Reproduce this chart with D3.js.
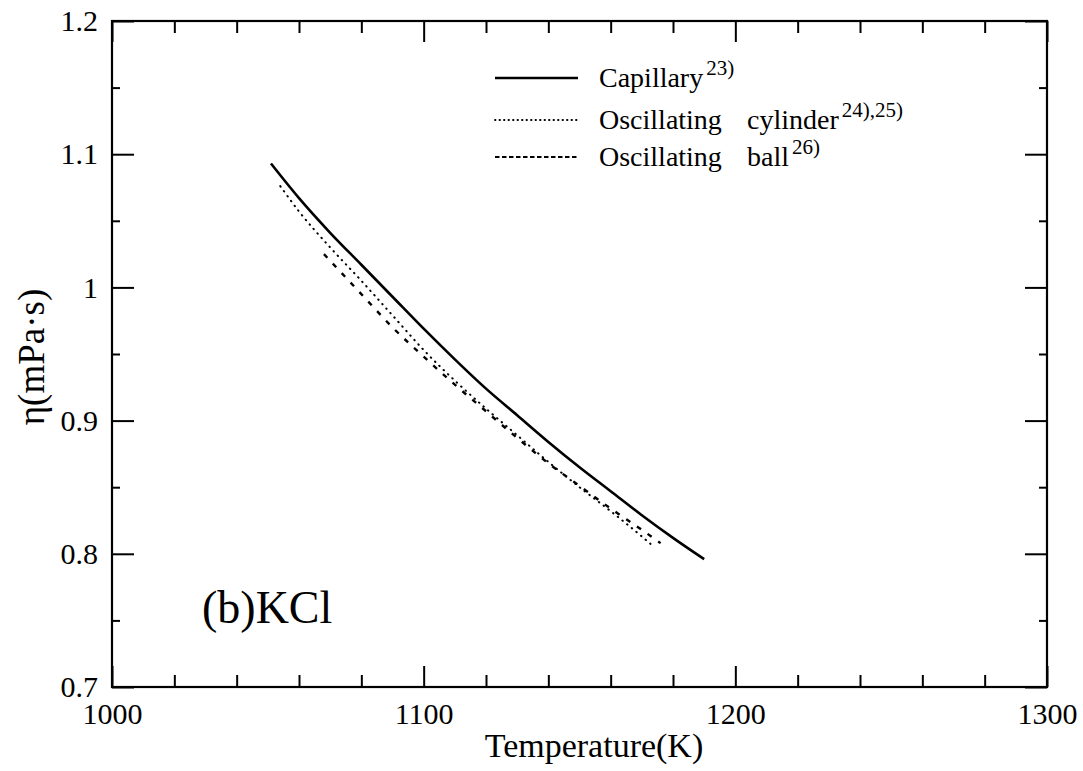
<!DOCTYPE html>
<html><head><meta charset="utf-8">
<script src="https://cdn.jsdelivr.net/npm/d3@7"></script>
<style>
body{margin:0;background:#fff}
text{font-family:"Liberation Serif","Times New Roman",Times,"DejaVu Serif",serif;fill:#000}
</style>
</head><body>
<svg id="c" width="1083" height="771"></svg>
<script>
// ---- data ----
const xMajorTicks = [1000, 1100, 1200, 1300];
const xTickLabels = ["1000", "1100", "1200", "1300"];
const xMinorTicks = [1020,1040,1060,1080,1120,1140,1160,1180,1220,1240,1260,1280];
const yMajorTicks = [0.7, 0.8, 0.9, 1.0, 1.1, 1.2];
const yTickLabels = ["0.7", "0.8", "0.9", "1", "1.1", "1.2"];
const yMinorTicks = [0.75, 0.85, 0.95, 1.05, 1.15];

const capillaryT   = [1051, 1060, 1070, 1080, 1090, 1100, 1110, 1120, 1130, 1140, 1150, 1160, 1170, 1180, 1190];
const capillaryEta = [1.093, 1.067, 1.041, 1.017, 0.993, 0.969, 0.946, 0.924, 0.904, 0.884, 0.865, 0.847, 0.829, 0.812, 0.796];

const cylinderT   = [1054, 1060, 1070, 1080, 1090, 1100, 1110, 1120, 1130, 1140, 1150, 1160, 1170, 1174];
const cylinderEta = [1.076, 1.057, 1.030, 1.005, 0.979, 0.953, 0.930, 0.909, 0.889, 0.869, 0.850, 0.832, 0.813, 0.805];

const ballT   = [1068, 1070, 1080, 1090, 1100, 1110, 1120, 1130, 1140, 1150, 1160, 1170, 1176];
const ballEta = [1.025, 1.020, 0.995, 0.970, 0.948, 0.927, 0.907, 0.887, 0.868, 0.851, 0.834, 0.818, 0.808];

const seriesNames = ["Capillary", "Oscillating", "Oscillating"];
const seriesSecondWord = ["", "cylinder", "ball"];
const seriesRefs = ["23)", "24),25)", "26)"];

// ---- layout ----
const L = 112, R = 1047, T = 21, B = 687;
const svg = d3.select("#c");
const x = d3.scaleLinear().domain([1000, 1300]).range([L, R]);
const y = d3.scaleLinear().domain([0.7, 1.2]).range([B, T]);

function styleAxis(g) {
  g.select(".domain").remove();
  g.selectAll("line").attr("stroke", "#000").attr("stroke-width", 2);
  g.attr("font-size", 30);
  g.selectAll("text").attr("fill", "#000");
}

// minor/major ticks, inward on all four sides
svg.append("g").attr("transform", `translate(0,${B})`)
  .call(d3.axisBottom(x).tickValues(xMinorTicks).tickSize(-12).tickFormat("")).call(styleAxis);
svg.append("g").attr("transform", `translate(0,${B})`)
  .call(d3.axisBottom(x).tickValues(xMajorTicks).tickSize(-21).tickPadding(16)
    .tickFormat((d, i) => xTickLabels[i])).call(styleAxis);
svg.append("g").attr("transform", `translate(0,${T})`)
  .call(d3.axisTop(x).tickValues(xMinorTicks).tickSize(-12).tickFormat("")).call(styleAxis);
svg.append("g").attr("transform", `translate(0,${T})`)
  .call(d3.axisTop(x).tickValues(xMajorTicks).tickSize(-21).tickFormat("")).call(styleAxis);

svg.append("g").attr("transform", `translate(${L},0)`)
  .call(d3.axisLeft(y).tickValues(yMinorTicks).tickSize(-8).tickFormat("")).call(styleAxis);
svg.append("g").attr("transform", `translate(${L},0)`)
  .call(d3.axisLeft(y).tickValues(yMajorTicks).tickSize(-22).tickPadding(14)
    .tickFormat((d, i) => yTickLabels[i])).call(styleAxis);
svg.append("g").attr("transform", `translate(${R},0)`)
  .call(d3.axisRight(y).tickValues(yMinorTicks).tickSize(-8).tickFormat("")).call(styleAxis);
svg.append("g").attr("transform", `translate(${R},0)`)
  .call(d3.axisRight(y).tickValues(yMajorTicks).tickSize(-22).tickFormat("")).call(styleAxis);

// frame
svg.append("rect").attr("x", L).attr("y", T).attr("width", R - L).attr("height", B - T)
  .attr("fill", "none").attr("stroke", "#000").attr("stroke-width", 2.2);

// curves
const line = d3.line().x(d => x(d[0])).y(d => y(d[1])).curve(d3.curveMonotoneX);
const zip = (a, b) => a.map((v, i) => [v, b[i]]);

svg.append("path").datum(zip(capillaryT, capillaryEta)).attr("d", line)
  .attr("fill", "none").attr("stroke", "#000").attr("stroke-width", 2.6);
svg.append("path").datum(zip(cylinderT, cylinderEta)).attr("d", line)
  .attr("fill", "none").attr("stroke", "#000").attr("stroke-width", 2)
  .attr("stroke-linecap", "round").attr("stroke-dasharray", "0.5,5.5");
svg.append("path").datum(zip(ballT, ballEta)).attr("d", line)
  .attr("fill", "none").attr("stroke", "#000").attr("stroke-width", 2.4)
  .attr("stroke-dasharray", "5,8");

// legend
const legY = [78, 120, 157];
const legDash = [null, "0.5,4", "4.5,2.5"];
const legWidth = [2.4, 1.8, 2];
seriesNames.forEach((name, i) => {
  const ln = svg.append("line").attr("x1", 495).attr("x2", 578).attr("y1", legY[i]).attr("y2", legY[i])
    .attr("stroke", "#000").attr("stroke-width", legWidth[i]);
  if (legDash[i]) ln.attr("stroke-dasharray", legDash[i]).attr("stroke-linecap", i === 1 ? "round" : "butt");
  const t = svg.append("text").attr("x", 599).attr("y", legY[i] + 9).attr("font-size", 28);
  t.append("tspan").text(name);
  if (seriesSecondWord[i]) t.append("tspan").attr("x", 747).text(seriesSecondWord[i]);
  t.append("tspan").attr("dx", 3).attr("dy", -12).attr("font-size", 21).text(seriesRefs[i]);
});

// annotation
svg.append("text").attr("x", 202).attr("y", 623).attr("font-size", 46).text("(b)KCl");

// axis titles
svg.append("text").attr("x", 594).attr("y", 757).attr("text-anchor", "middle")
  .attr("font-size", 34).text("Temperature(K)");
svg.append("text").attr("transform", "translate(44,357) rotate(-90)").attr("text-anchor", "middle")
  .attr("font-size", 37).text("η(mPa·s)");
</script>
</body></html>
